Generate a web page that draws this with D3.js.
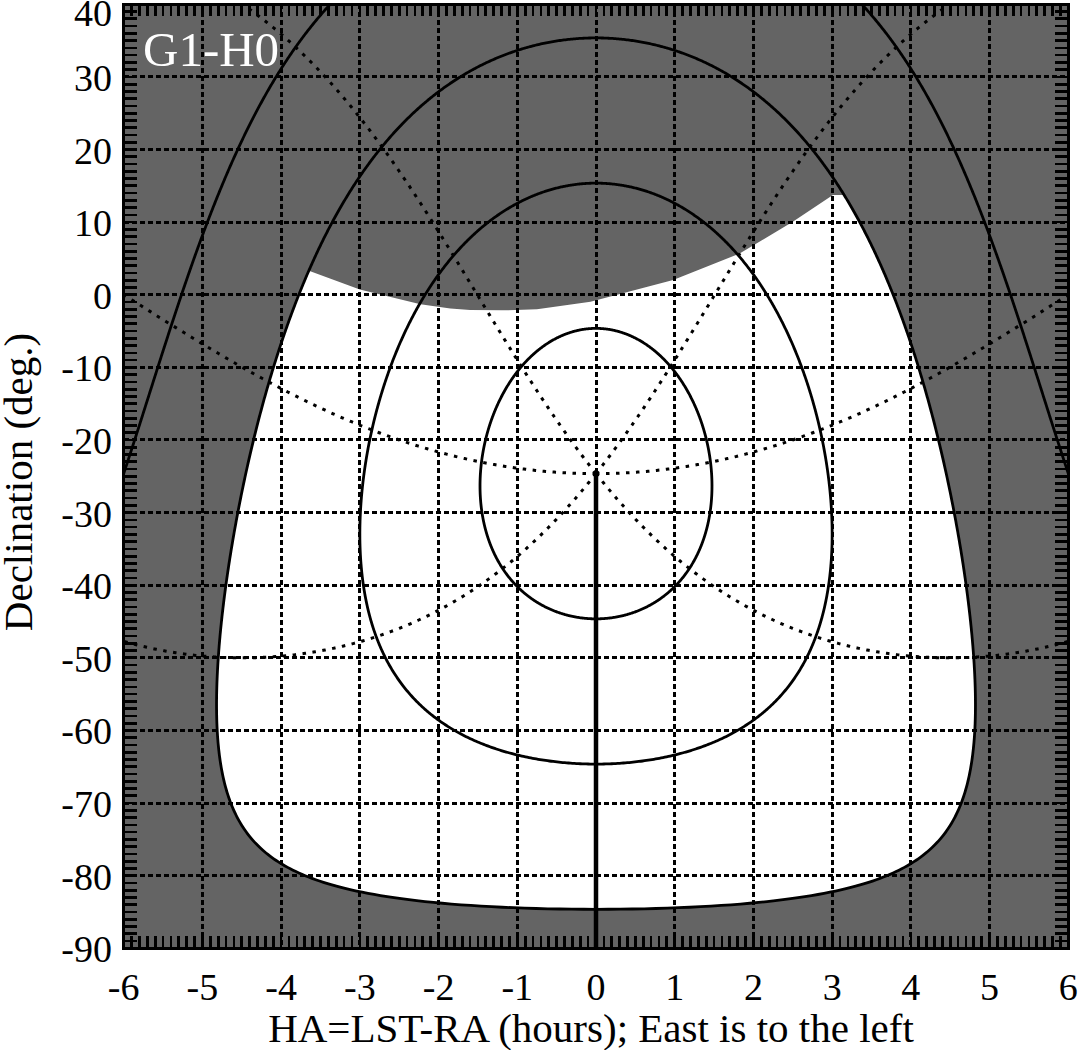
<!DOCTYPE html>
<html>
<head>
<meta charset="utf-8">
<script src="https://cdn.jsdelivr.net/npm/d3@7"></script>
<style>
  html, body { margin: 0; padding: 0; background: #ffffff; }
  svg { display: block; }
  text { font-family: "Liberation Serif", "Times New Roman", serif; fill: #000; }
</style>
</head>
<body>
<script>
// ---------- data ----------
const haTicks = [-6, -5, -4, -3, -2, -1, 0, 1, 2, 3, 4, 5, 6];
const decTicks = [-90, -80, -70, -60, -50, -40, -30, -20, -10, 0, 10, 20, 30, 40];
const siteLatitude = -24.63;             // zenith declination
const altitudeLevels = [70, 50, 30, 10];  // solid altitude contours (deg)
const observableAltitude = 30;            // white region lower altitude limit
const azimuthLines = [45, 90, 135, 225, 270, 315]; // dotted azimuth lines (deg, N through E)
const meridianAzimuth = 180;              // thick south meridian line
// gray exclusion zone lower edge
const moonEdgeHA  = [-3.63, -3.00, -2.23, -1.85, -1.60, -1.20, -0.75, -0.07, 0.98, 1.83, 2.50, 3.01];
const moonEdgeDec = [ 3.24,  0.74, -1.32, -1.88, -2.11, -2.15, -2.01, -0.97, 2.02, 5.70, 10.05, 13.73];
const fieldLabel = "G1-H0";
const xTitle = "HA=LST-RA (hours); East is to the left";
const yTitle = "Declination (deg.)";

// ---------- layout ----------
const W = 1078, H = 1050;
const pLeft = 123.7, pRight = 1068.3, pTop = 4.3, pBottom = 948.3;

const x = d3.scaleLinear().domain([-6, 6]).range([pLeft, pRight]);
const y = d3.scaleLinear().domain([-90, 40]).range([pBottom, pTop]);

const svg = d3.select("body").append("svg").attr("width", W).attr("height", H);
const defs = svg.append("defs");
defs.append("clipPath").attr("id", "plotClip")
  .append("rect").attr("x", pLeft).attr("y", pTop).attr("width", pRight - pLeft).attr("height", pBottom - pTop);

// spherical conversion: altitude/azimuth -> [HA hours, dec deg]
const rad = Math.PI / 180;
function altAzToHaDec(alt, az) {
  const phi = siteLatitude * rad, a = alt * rad, A = az * rad;
  const sd = Math.sin(phi) * Math.sin(a) + Math.cos(phi) * Math.cos(a) * Math.cos(A);
  const dec = Math.asin(Math.max(-1, Math.min(1, sd)));
  const h = Math.atan2(-Math.sin(A) * Math.cos(a) * Math.cos(phi),
                       Math.sin(a) - Math.sin(phi) * Math.sin(dec));
  return [h / rad / 15, dec / rad];
}

const line = d3.line()
  .defined(d => Math.abs(d[0]) < 7)
  .x(d => x(d[0])).y(d => y(d[1]));

function contour(alt) {
  return d3.range(0, 360.001, 0.25).map(A => altAzToHaDec(alt, A));
}
function azLine(az, minAlt) {
  return d3.range(90, minAlt - 0.001, -0.25).map(a => altAzToHaDec(a, az));
}

const plot = svg.append("g").attr("clip-path", "url(#plotClip)");

// gray background
plot.append("rect").attr("x", pLeft).attr("y", pTop)
  .attr("width", pRight - pLeft).attr("height", pBottom - pTop).attr("fill", "#646464");

// clip for the white region (below exclusion edge)
const edgePts = moonEdgeHA.map((h, i) => [h, moonEdgeDec[i]]);
const clipPts = [[-6, moonEdgeDec[0]]].concat(edgePts,
  [[6, moonEdgeDec[moonEdgeDec.length - 1]], [6, -90], [-6, -90]]);
defs.append("clipPath").attr("id", "edgeClip")
  .append("path").attr("d", d3.line().x(d => x(d[0])).y(d => y(d[1]))(clipPts) + "Z");

plot.append("g").attr("clip-path", "url(#edgeClip)")
  .append("path")
  .attr("d", d3.line().x(d => x(d[0])).y(d => y(d[1]))(contour(observableAltitude)) + "Z")
  .attr("fill", "#ffffff");

// grid
const gridStyle = g => g.attr("stroke", "#000").attr("stroke-width", 3)
  .attr("stroke-dasharray", "5,3").attr("shape-rendering", "crispEdges");
plot.append("g").selectAll("line").data(haTicks.slice(1, -1)).join("line")
  .attr("x1", d => x(d)).attr("x2", d => x(d)).attr("y1", pTop).attr("y2", pBottom).call(gridStyle);
plot.append("g").selectAll("line").data(decTicks.slice(1, -1)).join("line")
  .attr("y1", d => y(d)).attr("y2", d => y(d)).attr("x1", pLeft).attr("x2", pRight).call(gridStyle);

// azimuth dotted lines
plot.append("g").selectAll("path").data(azimuthLines).join("path")
  .attr("d", az => line(azLine(az, -5)))
  .attr("fill", "none").attr("stroke", "#000").attr("stroke-width", 3)
  .attr("stroke-dasharray", "3.5,6.5");

// altitude contours
plot.append("g").selectAll("path").data(altitudeLevels).join("path")
  .attr("d", a => line(contour(a)))
  .attr("fill", "none").attr("stroke", "#000").attr("stroke-width", 2.8);

// south meridian
plot.append("path")
  .attr("d", line(azLine(meridianAzimuth, 24)))
  .attr("fill", "none").attr("stroke", "#000").attr("stroke-width", 4.5);

// minor ticks
const tickG = svg.append("g").attr("stroke", "#000").attr("stroke-width", 2.7)
  .attr("shape-rendering", "crispEdges");
const haMinor = d3.range(-60, 61).map(v => v / 10);
const decMinor = d3.range(-90, 41);
tickG.append("g").selectAll("line").data(haMinor).join("line")
  .attr("x1", d => x(d)).attr("x2", d => x(d)).attr("y1", pBottom).attr("y2", pBottom - 12);
tickG.append("g").selectAll("line").data(haMinor).join("line")
  .attr("x1", d => x(d)).attr("x2", d => x(d)).attr("y1", pTop).attr("y2", pTop + 12);
tickG.append("g").selectAll("line").data(decMinor).join("line")
  .attr("y1", d => y(d)).attr("y2", d => y(d)).attr("x1", pLeft).attr("x2", pLeft + 13);
tickG.append("g").selectAll("line").data(decMinor).join("line")
  .attr("y1", d => y(d)).attr("y2", d => y(d)).attr("x1", pRight).attr("x2", pRight - 13);

// frame
svg.append("rect").attr("x", pLeft).attr("y", pTop).attr("width", pRight - pLeft).attr("height", pBottom - pTop)
  .attr("fill", "none").attr("stroke", "#000").attr("stroke-width", 3.4)
  .attr("shape-rendering", "crispEdges");

// tick labels
svg.append("g").selectAll("text").data(haTicks).join("text")
  .attr("x", d => x(d)).attr("y", 1000).attr("text-anchor", "middle")
  .style("font-size", "38px").text(d => d);
svg.append("g").selectAll("text").data(decTicks).join("text")
  .attr("x", 112).attr("y", d => Math.max(y(d) + 14, 26)).attr("text-anchor", "end")
  .style("font-size", "38px").text(d => d);

// axis titles
svg.append("text").attr("x", 591).attr("y", 1042).attr("text-anchor", "middle")
  .style("font-size", "41px").text(xTitle);
svg.append("text").attr("transform", "translate(32,482) rotate(-90)").attr("text-anchor", "middle")
  .style("font-size", "41px").text(yTitle);

// field label
svg.append("text").attr("x", 143).attr("y", 66).style("font-size", "49px")
  .style("fill", "#fff").text(fieldLabel);
</script>
</body>
</html>
